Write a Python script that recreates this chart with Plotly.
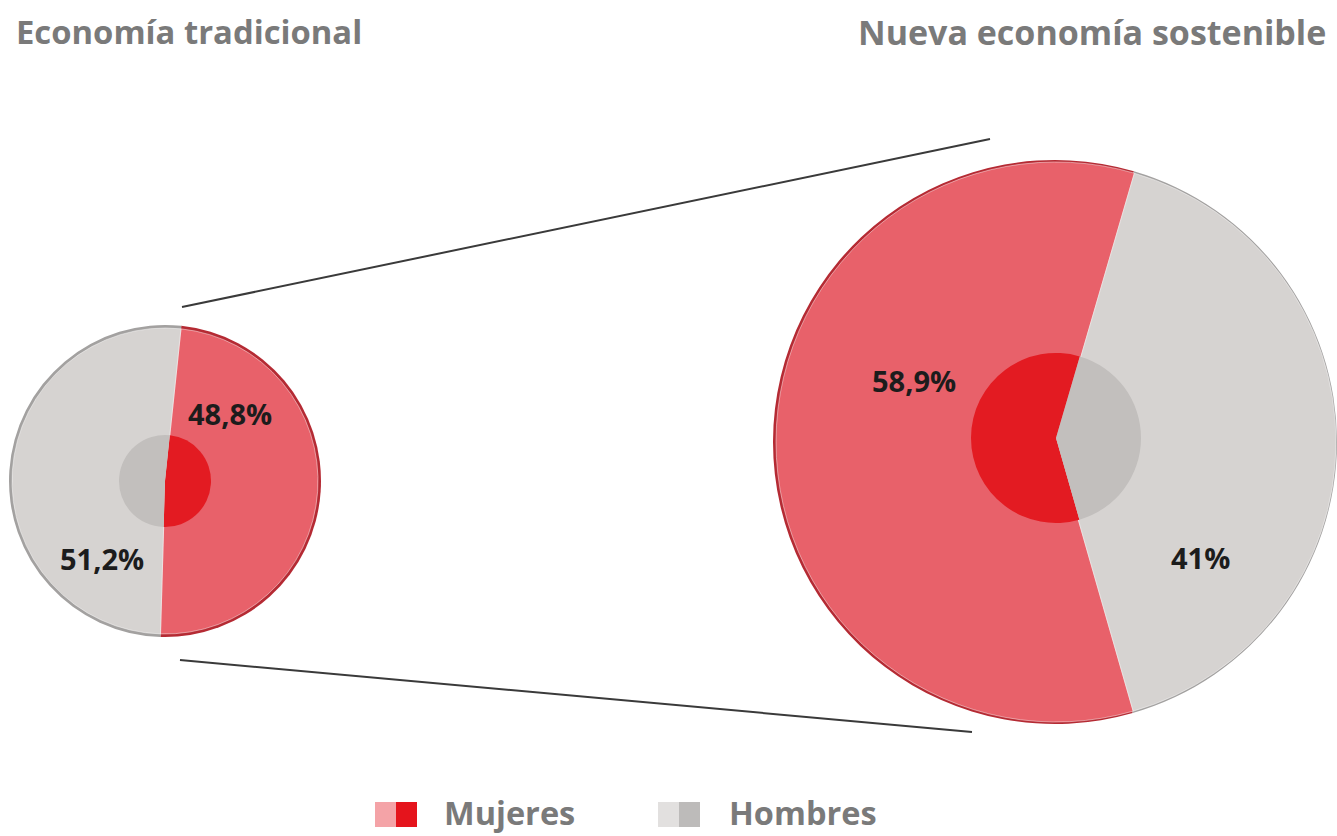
import plotly.graph_objects as go

W, H = 1337, 836

# ---- data ----
labels = ["Mujeres", "Hombres"]
trad_values = [48.8, 51.2]
sost_values = [58.9, 41.0]
trad_text = ["48,8%", "51,2%"]
sost_text = ["58,9%", "41%"]
titles = ["Economía tradicional", "Nueva economía sostenible"]

# ---- styles ----
outer_colors = ["#E8616A", "#D6D3D1"]
inner_colors = ["#E31B22", "#C2BFBD"]
rim_colors = ["#B52A33", "#A3A1A0"]
legend_light = ["#F4A3A7", "#E2E0DF"]
legend_dark = ["#E5141C", "#BDBBBA"]
text_gray = "#7A7A7A"
FONT = "Open Sans"


def px(x):
    return x / W


def py(y):
    return 1 - y / H


def dom(cx, cy, r):
    return dict(x=[max(0, px(cx - r)), min(1, px(cx + r))],
                y=[max(0, py(cy + r)), min(1, py(cy - r))])


fig = go.Figure()

pies = [
    # (values, rotation, center x, center y, outer r, inner center y, inner r)
    (trad_values, 6, 165, 481, 153, 481, 46),
    (sost_values, 164, 1056, 442, 280, 438, 85),
]

for vals, rot, cx, cy, r, icy, ir in pies:
    # dark rim behind
    fig.add_trace(go.Pie(labels=labels, values=vals, sort=False, direction="clockwise",
                         rotation=rot, domain=dom(cx, cy, r + 3),
                         marker=dict(colors=rim_colors, line=dict(width=0)),
                         textinfo="none", hoverinfo="skip", showlegend=False))
    # main fill
    fig.add_trace(go.Pie(labels=labels, values=vals, sort=False, direction="clockwise",
                         rotation=rot, domain=dom(cx, cy, r),
                         marker=dict(colors=outer_colors,
                                     line=dict(width=1, color="rgba(255,255,255,0.45)")),
                         textinfo="none", hoverinfo="label+percent", showlegend=False))
    # inner saturated circle
    fig.add_trace(go.Pie(labels=labels, values=vals, sort=False, direction="clockwise",
                         rotation=rot, domain=dom(cx, icy, ir),
                         marker=dict(colors=inner_colors, line=dict(width=0)),
                         textinfo="none", hoverinfo="skip", showlegend=False))

annotations = []
# titles
annotations.append(dict(x=px(14), y=py(32), xref="paper", yref="paper", xanchor="left",
                        yanchor="middle", text=titles[0], showarrow=False,
                        font=dict(family=FONT, size=32.8, color=text_gray, weight="bold")))
annotations.append(dict(x=px(1328), y=py(32), xref="paper", yref="paper", xanchor="right",
                        yanchor="middle", text=titles[1], showarrow=False,
                        font=dict(family=FONT, size=34, color=text_gray, weight="bold")))

# value labels
label_pos = [(230, 413), (102, 558), (914, 380), (1200, 557)]
for txt, (x, y) in zip(trad_text + sost_text, label_pos):
    annotations.append(dict(x=px(x), y=py(y), xref="paper", yref="paper", text=txt,
                            showarrow=False, xanchor="center", yanchor="middle",
                            font=dict(family=FONT, size=29, color="#1C1C1C", weight="bold")))

shapes = []
# connector lines
for (x0, y0, x1, y1) in [(182, 307, 990, 139), (180, 660, 972, 732)]:
    shapes.append(dict(type="line", xref="paper", yref="paper", x0=px(x0), y0=py(y0),
                       x1=px(x1), y1=py(y1), line=dict(color="#3A3A3A", width=2)))

# legend
leg_icons = [375, 658]
leg_text_x = [443, 728]
for i, lab in enumerate(labels):
    x0 = leg_icons[i]
    shapes.append(dict(type="rect", xref="paper", yref="paper", x0=px(x0), x1=px(x0 + 21),
                       y0=py(827), y1=py(802), fillcolor=legend_light[i], line=dict(width=0)))
    shapes.append(dict(type="rect", xref="paper", yref="paper", x0=px(x0 + 21), x1=px(x0 + 42),
                       y0=py(827), y1=py(802), fillcolor=legend_dark[i], line=dict(width=0)))
    annotations.append(dict(x=px(leg_text_x[i]), y=py(812), xref="paper", yref="paper",
                            xanchor="left", yanchor="middle", text=lab, showarrow=False,
                            borderpad=0,
                            font=dict(family=FONT, size=32.5, color=text_gray, weight="bold")))

fig.update_layout(width=W, height=H, margin=dict(l=0, r=0, t=0, b=0),
                  paper_bgcolor="white", plot_bgcolor="white",
                  annotations=annotations, shapes=shapes, showlegend=False)

fig.write_html("out.html", config={"displayModeBar": False},
               post_script="document.body.style.margin='0';document.body.style.overflow='hidden';")
